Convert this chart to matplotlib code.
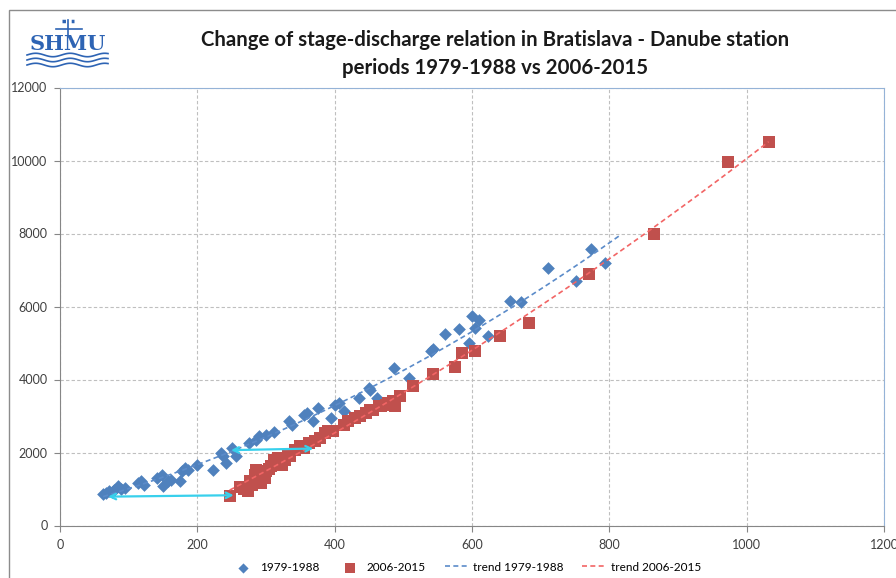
import numpy as np
import matplotlib
matplotlib.use("Agg")
import matplotlib.pyplot as plt
from matplotlib.patches import Rectangle

# stage (cm) vs discharge (m3/s)
stage_old = [63, 67, 71, 75, 79, 84, 89, 95, 113, 118, 123, 141, 148, 150, 158, 162, 175,
             177, 182, 187, 199, 223, 235, 237, 242, 250, 257, 275, 285, 290, 300, 312,
             333, 338, 355, 360, 368, 375, 394, 401, 406, 413, 435, 450, 452, 462, 486,
             508, 540, 543, 560, 581, 595, 600, 604, 610, 623, 655, 672, 711, 752, 774, 794]
flow_old = [850, 900, 940, 920, 967, 1077, 1005, 1020, 1170, 1214, 1123, 1307, 1397, 1077,
            1214, 1260, 1214, 1488, 1580, 1534, 1653, 1516, 1991, 1900, 1717, 2128, 1900,
            2265, 2356, 2447, 2493, 2557, 2858, 2767, 3041, 3087, 2857, 3224, 2950, 3315,
            3361, 3132, 3498, 3772, 3726, 3498, 4320, 4046, 4776, 4822, 5252, 5370, 5005,
            5753, 5416, 5625, 5205, 6146, 6119, 7059, 6685, 7589, 7196]

stage_new = [247, 262, 268, 274, 276, 280, 284, 286, 290, 293, 296, 298, 300, 305, 308, 312,
             315, 318, 323, 328, 332, 335, 342, 349, 356, 363, 371, 378, 386, 391, 398, 413,
             420, 430, 437, 446, 451, 456, 465, 468, 475, 478, 485, 488, 495, 514, 543, 575,
             585, 604, 641, 683, 771, 865, 973, 1032]
flow_new = [800, 1059, 1000, 940, 1214, 1100, 1397, 1534, 1250, 1169, 1400, 1306, 1488, 1550,
            1625, 1808, 1700, 1854, 1671, 1808, 1945, 1900, 2082, 2173, 2128, 2265, 2310,
            2402, 2539, 2584, 2584, 2767, 2857, 2950, 2995, 3087, 3178, 3178, 3269, 3269,
            3315, 3361, 3406, 3269, 3543, 3817, 4137, 4347, 4731, 4776, 5187, 5543, 6877,
            7973, 9964, 10520]

# shift arrows (start -> end)
arrow_low = [(66, 790), (257, 830)]
arrow_high = [(245, 2063), (373, 2110)]

title = "Change of stage-discharge relation in Bratislava - Danube station\nperiods 1979-1988 vs 2006-2015"
labels = ["1979-1988", "2006-2015", "trend 1979-1988", "trend 2006-2015"]

blue = "#4F81BD"
red = "#C0504D"
blue_trend = "#5B8BC9"
red_trend = "#F26565"
cyan = "#38D0EC"

plt.rcParams['font.family'] = ['Lato', 'DejaVu Sans']

fig = plt.figure(figsize=(8.96, 5.78), dpi=100)
ax = fig.add_axes([60 / 896, 1 - 525.5 / 578, 824 / 896, 438 / 578])

# trend lines (2nd order polynomial fits)
p_old = np.polyfit(stage_old, flow_old, 2)
p_new = np.polyfit(stage_new, flow_new, 2)
xo = np.linspace(min(stage_old), 815, 100)
xn = np.linspace(min(stage_new), max(stage_new), 100)

ax.scatter(stage_old, flow_old, marker='D', s=42, color=blue, zorder=3, label=labels[0], linewidths=0)
ax.scatter(stage_new, flow_new, marker='s', s=80, color=red, zorder=3, label=labels[1], linewidths=0)
ax.plot(xo, np.polyval(p_old, xo), ls=(0, (3, 2)), color=blue_trend, lw=1.2, zorder=4, label=labels[2])
ax.plot(xn, np.polyval(p_new, xn), ls=(0, (3, 2)), color=red_trend, lw=1.2, zorder=4, label=labels[3])

for a in (arrow_low, arrow_high):
    ax.annotate("", xy=a[0], xytext=a[1], zorder=5,
                arrowprops=dict(arrowstyle="<->", color=cyan, lw=1.6, mutation_scale=10))

ax.set_xlim(0, 1200)
ax.set_ylim(0, 12000)
ax.set_xticks(range(0, 1201, 200))
ax.set_yticks(range(0, 12001, 2000))
ax.grid(True, color="#BFBFBF", ls=(0, (3, 2)), lw=0.8)
ax.set_axisbelow(True)
ax.tick_params(direction='out', length=4, color="#868686", labelsize=9, labelcolor="#404040")
ax.tick_params(axis='x', pad=6)
ax.tick_params(axis='y', pad=5)
for s in ('left', 'bottom'):
    ax.spines[s].set_color("#868686")
for s in ('top', 'right'):
    ax.spines[s].set_color("#95B3D7")

fig.text(495 / 896, 1 - 54 / 578, title, ha='center', va='center', fontsize=14.7,
         fontweight='bold', color="#1A1A1A", linespacing=1.5)

ax.legend(loc='center', bbox_to_anchor=(0.493, -0.095), ncol=4, frameon=False,
          fontsize=8.5, handlelength=2.0, handletextpad=0.4, columnspacing=1.6,
          markerscale=0.8)

# outer chart border (cropped at right and bottom)
fig.patches.append(Rectangle((9 / 896, -0.1), 1.2, 1 - 10 / 578 + 0.1, transform=fig.transFigure,
                             fill=False, edgecolor="#8C8C8C", lw=1.0))

# SHMU logo
fig.text(68 / 896, 1 - 44 / 578, "SHMU", ha='center', va='center', fontsize=15,
         fontweight='bold', color="#2E64B4", family='DejaVu Serif')
lx = np.linspace(27, 108, 60)
for k in range(3):
    yy = 1 - (55 + k * 5) / 578 + 0.003 * np.sin((lx - 27) / 5.5)
    fig.add_artist(plt.Line2D(lx / 896, yy, color="#2E64B4", lw=1.2, transform=fig.transFigure))
fig.add_artist(plt.Line2D([68 / 896, 68 / 896], [1 - 35 / 578, 1 - 20 / 578], color="#2E64B4", lw=1.2))
fig.add_artist(plt.Line2D([56 / 896, 82 / 896], [1 - 29 / 578, 1 - 29 / 578], color="#2E64B4", lw=1.2))
fig.add_artist(plt.Line2D([62 / 896, 74 / 896], [1 - 21 / 578, 1 - 21 / 578], color="#2E64B4", lw=2.5, ls=':'))

fig.savefig("out.png", dpi=100)
